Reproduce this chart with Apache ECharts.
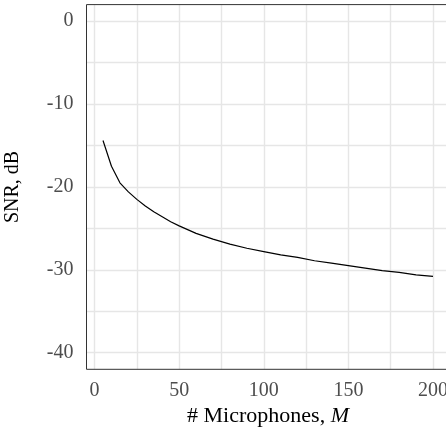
<!DOCTYPE html>
<html>
<head>
<meta charset="utf-8">
<script src="https://cdn.jsdelivr.net/npm/echarts@6/dist/echarts.min.js"></script>
<style>
html,body{margin:0;padding:0;background:#fff;}
#c{width:446px;height:431px;}
</style>
</head>
<body>
<div id="c"></div>
<script>
// Data
const micCounts = [5,10,15,20,25,30,35,40,45,50,60,70,80,90,100,110,120,130,140,150,160,170,180,190,200];
const snrDb = [-14.4,-17.5,-19.5,-20.6,-21.5,-22.3,-23.0,-23.6,-24.2,-24.7,-25.6,-26.3,-26.9,-27.4,-27.8,-28.2,-28.5,-28.9,-29.2,-29.5,-29.8,-30.1,-30.3,-30.6,-30.8];
const xMajorTicks = [0,50,100,150,200];
const xMinorTicks = [25,75,125,175];
const yMajorTicks = [-40,-30,-20,-10,0];
const yMinorTicks = [-35,-25,-15,-5];
const xRange = [-4.75, 209.75];
const yRange = [-42, 2];

const FONT = '"Liberation Serif", "DejaVu Serif", serif';
const chart = echarts.init(document.getElementById('c'), null, {renderer:'canvas'});

const gridLines = [];
xMajorTicks.concat(xMinorTicks).forEach(v => gridLines.push({xAxis: v}));
yMajorTicks.concat(yMinorTicks).forEach(v => gridLines.push({yAxis: v}));

chart.setOption({
  animation: false,
  backgroundColor: '#ffffff',
  grid: {left: 86.5, top: 4.6, width: 363, height: 364.7, containLabel: false, outerBoundsMode: 'none',
    show: true, z: 10, borderColor: '#333333', borderWidth: 1, backgroundColor: 'transparent'},
  xAxis: {
    type: 'value', min: xRange[0], max: xRange[1],
    name: '# Microphones, {i|M}', nameLocation: 'middle', nameGap: 33,
    nameTextStyle: {fontFamily: FONT, fontSize: 22, color: '#000', rich: {i: {fontFamily: FONT, fontSize: 22, fontStyle: 'italic', color: '#000'}}},
    axisLine: {show: false},
    axisTick: {show: true, length: 6, lineStyle: {color: '#333333', width: 1}, customValues: xMajorTicks},
    axisLabel: {customValues: xMajorTicks, fontFamily: FONT, fontSize: 20, color: '#4d4d4d', margin: 11},
    splitLine: {show: false}
  },
  yAxis: {
    type: 'value', min: yRange[0], max: yRange[1],
    name: 'SNR, dB', nameLocation: 'middle', nameGap: 64, nameRotate: 90,
    nameTextStyle: {fontFamily: FONT, fontSize: 20, color: '#000'},
    axisLine: {show: false},
    axisTick: {show: true, length: 6, lineStyle: {color: '#333333', width: 1}, customValues: yMajorTicks},
    axisLabel: {customValues: yMajorTicks, fontFamily: FONT, fontSize: 20, color: '#4d4d4d', margin: 13},
    splitLine: {show: false}
  },
  series: [
    {
      type: 'line', data: [], z: 1, silent: true,
      markLine: {silent: true, z: 1, symbol: 'none', label: {show: false}, animation: false,
        emphasis: {disabled: true},
        lineStyle: {color: '#e6e6e6', width: 1.4, type: 'solid', opacity: 1}, data: gridLines}
    },
    {
      type: 'line', z: 3,
      data: micCounts.map((m, i) => [m, snrDb[i]]),
      showSymbol: false, symbol: 'none', smooth: false,
      lineStyle: {color: '#000000', width: 1.2}
    }
  ]
});
</script>
</body>
</html>
